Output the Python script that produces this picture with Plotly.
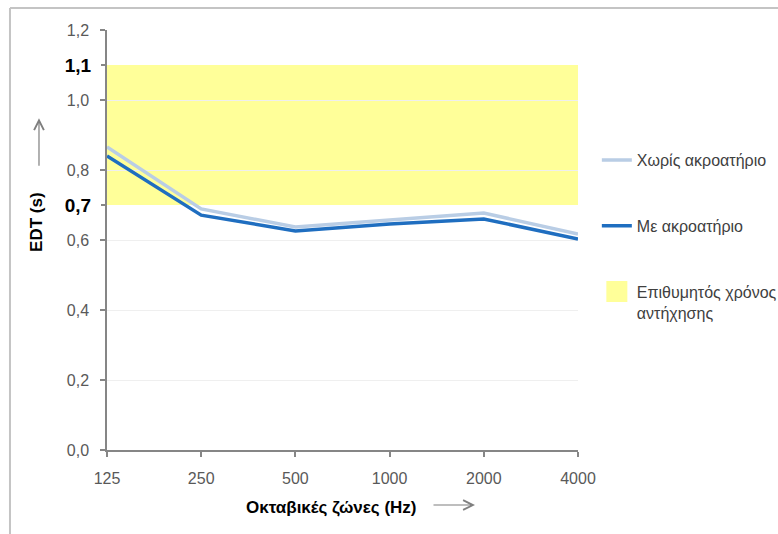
import plotly.graph_objects as go

# Octave bands and early decay time (EDT) values in seconds
bands = ["125", "250", "500", "1000", "2000", "4000"]
edt_empty = [0.866, 0.689, 0.637, 0.657, 0.677, 0.617]
edt_audience = [0.840, 0.671, 0.626, 0.646, 0.660, 0.603]

# Recommended reverberation-time range
target_low = 0.7
target_high = 1.1

y_ticks = [0.0, 0.2, 0.4, 0.6, 0.8, 1.0, 1.2]
y_ticktext = [f"{v:.1f}".replace(".", ",") for v in y_ticks]
target_ticks = [target_low, target_high]
target_ticktext = [f"{v:.1f}".replace(".", ",") for v in target_ticks]

FONT = "Liberation Sans"
TICK_COLOR = "#595959"
AXIS_COLOR = "#868686"
ARROW_COLOR = "#7F7F7F"

fig = go.Figure()

fig.add_trace(go.Scatter(
    x=bands, y=edt_empty, mode="lines", name="Χωρίς ακροατήριο",
    line=dict(color="#B9CDE5", width=3.5), legendgroup="a",
))
fig.add_trace(go.Scatter(
    x=bands, y=edt_audience, mode="lines", name="Με ακροατήριο",
    line=dict(color="#1F6EC0", width=3.5), legendgroup="b",
))
# Legend entry for the shaded target band (also carries the secondary tick axis)
fig.add_trace(go.Scatter(
    x=[None], y=[None], mode="markers", name="Επιθυμητός χρόνος<br>αντήχησης",
    marker=dict(symbol="square", size=16, color="#FFFF99",
                line=dict(color="#FFFF99", width=5)),
    legendgroup="c", yaxis="y2",
))

# Target band behind the gridlines
fig.add_shape(
    type="rect", xref="x domain", yref="y", x0=0, x1=1,
    y0=target_low, y1=target_high, fillcolor="#FFFF99",
    line=dict(width=0), layer="below",
)

# Outer frame (top and left edges)
fig.add_shape(type="line", xref="paper", yref="paper",
              x0=-0.206, x1=1.43, y0=1.0524, y1=1.0524,
              line=dict(color="#C4C4C4", width=2))
fig.add_shape(type="line", xref="paper", yref="paper",
              x0=-0.206, x1=-0.206, y0=1.0524, y1=-0.21,
              line=dict(color="#C4C4C4", width=2))

# Axis titles
fig.add_annotation(text="<b>EDT (s)</b>", xref="paper", yref="paper",
                   x=-0.1486, y=0.543, xanchor="center", yanchor="middle",
                   textangle=-90, showarrow=False,
                   font=dict(family=FONT, size=17, color="#000000"))
fig.add_annotation(text="<b>Οκταβικές ζώνες (Hz)</b>", xref="paper", yref="paper",
                   x=0.4756, y=-0.138, xanchor="center", yanchor="middle",
                   showarrow=False,
                   font=dict(family=FONT, size=17, color="#000000"))

# Direction arrows next to the axis titles
fig.add_annotation(text="", xref="paper", yref="paper",
                   x=-0.1444, y=0.790, ax=0, ay=49,
                   showarrow=True, arrowhead=5, arrowsize=1.6,
                   arrowwidth=1.2, arrowcolor=ARROW_COLOR, standoff=0)
fig.add_annotation(text="", xref="paper", yref="paper",
                   x=0.7813, y=-0.131, ax=-43, ay=0,
                   showarrow=True, arrowhead=5, arrowsize=1.6,
                   arrowwidth=1.2, arrowcolor=ARROW_COLOR, standoff=0)

fig.update_layout(
    width=778, height=534,
    margin=dict(l=107, r=200, t=30, b=84, autoexpand=False),
    paper_bgcolor="white", plot_bgcolor="white",
    font=dict(family=FONT, size=16, color=TICK_COLOR),
    showlegend=True,
    legend=dict(
        x=1.04, y=0.731, xanchor="left", yanchor="top",
        font=dict(family=FONT, size=16, color="#404040"),
        tracegroupgap=42, bgcolor="rgba(0,0,0,0)", valign="top",
        itemsizing="trace",
    ),
    xaxis=dict(
        type="category", categoryorder="array", categoryarray=bands,
        range=[0, 5], showgrid=False, zeroline=False,
        showline=True, linecolor=AXIS_COLOR, linewidth=1.5,
        ticks="outside", ticklen=5, tickcolor=AXIS_COLOR, tickwidth=1.5,
        tickfont=dict(family=FONT, size=16, color=TICK_COLOR),
        ticklabelstandoff=8,
    ),
    yaxis=dict(
        range=[0, 1.2], tickvals=y_ticks, ticktext=y_ticktext,
        showgrid=True, gridcolor="#EFEFEF", gridwidth=1, zeroline=False,
        showline=True, linecolor=AXIS_COLOR, linewidth=1.5,
        ticks="outside", ticklen=5, tickcolor=AXIS_COLOR, tickwidth=1.5,
        tickfont=dict(family=FONT, size=16, color=TICK_COLOR),
        ticklabelstandoff=8,
    ),
    yaxis2=dict(
        overlaying="y", side="left", anchor="x", range=[0, 1.2],
        tickvals=target_ticks, ticktext=target_ticktext,
        showgrid=False, zeroline=False, showline=False,
        ticks="outside", ticklen=5, tickcolor=AXIS_COLOR, tickwidth=1.5,
        tickfont=dict(family=FONT, size=19, color="#000000", weight="bold"),
        ticklabelstandoff=6,
    ),
)

fig.write_html("out.html")
